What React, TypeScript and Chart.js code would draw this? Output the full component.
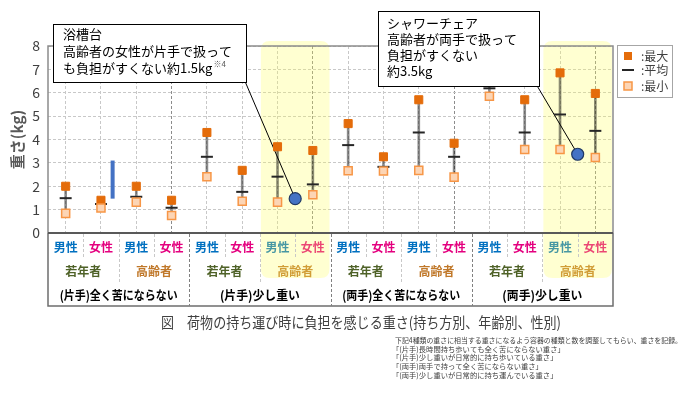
import React, { useEffect, useRef } from 'react';
import { Chart, registerables } from 'chart.js';

Chart.register(...registerables);

// ---------- data ----------
const genders = ['男性', '女性', '男性', '女性', '男性', '女性', '男性', '女性', '男性', '女性', '男性', '女性', '男性', '女性', '男性', '女性'];
const ageGroups = ['若年者', '高齢者', '若年者', '高齢者', '若年者', '高齢者', '若年者', '高齢者'];
const holdGroups = ['(片手)全く苦にならない', '(片手)少し重い', '(両手)全く苦にならない', '(両手)少し重い'];
const highlightedAgeGroups = [3, 7];

const maxValues = [2.0, 1.4, 2.0, 1.4, 4.3, 2.68, 3.69, 3.53, 4.68, 3.26, 5.7, 3.84, 6.6, 5.7, 6.85, 5.97];
const avgValues = [1.49, 1.24, 1.55, 1.08, 3.26, 1.76, 2.41, 2.08, 3.76, 2.83, 4.3, 3.26, 6.19, 4.3, 5.07, 4.37];
const minValues = [0.84, 1.07, 1.32, 0.75, 2.41, 1.36, 1.32, 1.64, 2.66, 2.65, 2.68, 2.39, 5.85, 3.57, 3.57, 3.23];

const markerX = [7.0, 15.0];
const markerY = [1.47, 3.37];
const blueBarX = 1.83;
const blueBarRange = [1.47, 3.1];

const yTickValues = [0, 1, 2, 3, 4, 5, 6, 7, 8];

const callout1Lines = ['浴槽台', '高齢者の女性が片手で扱って', 'も負担がすくない約1.5kg'];
const callout1Note = '※4';
const callout2Lines = ['シャワーチェア', '高齢者が両手で扱って', '負担がすくない', '約3.5kg'];

const legendLabels = [':最大', ':平均', ':最小'];
const chartTitle = '図　荷物の持ち運び時に負担を感じる重さ(持ち方別、年齢別、性別)';
const footnotes = [
  '下記4種類の重さに相当する重さになるよう容器の種類と数を調整してもらい、重さを記録。',
  '「(片手)長時間持ち歩いても全く苦にならない重さ」',
  '「(片手)少し重いが日常的に持ち歩いている重さ」',
  '「(両手)両手で持って全く苦にならない重さ」',
  '「(両手)少し重いが日常的に持ち運んでいる重さ」',
];

const FONT = "'Noto Sans CJK JP', 'Noto Sans', sans-serif";
const MAX_COLOR = '#E46C0A';
const MIN_FILL = '#FCD5B5';
const MIN_BORDER = '#F79646';
const AVG_COLOR = '#262626';
const BLUE = '#4472C4';

function roundRect(ctx: CanvasRenderingContext2D, x: number, y: number, w: number, h: number, r: number) {
  ctx.beginPath();
  ctx.moveTo(x + r, y);
  ctx.lineTo(x + w - r, y);
  ctx.quadraticCurveTo(x + w, y, x + w, y + r);
  ctx.lineTo(x + w, y + h - r);
  ctx.quadraticCurveTo(x + w, y + h, x + w - r, y + h);
  ctx.lineTo(x + r, y + h);
  ctx.quadraticCurveTo(x, y + h, x, y + h - r);
  ctx.lineTo(x, y + r);
  ctx.quadraticCurveTo(x, y, x + r, y);
  ctx.closePath();
}

const CALLOUT1 = { x: 53.5, y: 24.5, w: 193, h: 58, tx: 63, ty: [34, 51, 68] };
const CALLOUT2 = { x: 378.5, y: 11.5, w: 161, h: 75, tx: 387, ty: [23, 39, 55, 71] };

const overlayPlugin = {
  id: 'overlay',
  beforeDatasetsDraw(chart: any) {
    const ctx: CanvasRenderingContext2D = chart.ctx;
    const xs = chart.scales.x;
    const ys = chart.scales.y;
    ctx.save();

    // category labels
    ctx.textAlign = 'center';
    ctx.textBaseline = 'middle';
    ctx.font = `bold 12px ${FONT}`;
    genders.forEach((g, i) => {
      ctx.fillStyle = g === '男性' ? '#0070C0' : '#E4007F';
      ctx.fillText(g, xs.getPixelForValue(i + 0.5), 247);
    });
    ageGroups.forEach((a, i) => {
      ctx.fillStyle = a === '若年者' ? '#4F6228' : '#C0782A';
      ctx.fillText(a, xs.getPixelForValue(i * 2 + 1), 271);
    });
    ctx.fillStyle = '#000';
    ctx.font = `bold 12.5px ${FONT}`;
    holdGroups.forEach((h, i) => {
      const w = h.length > 8 ? 118 : 80;
      ctx.fillText(h, xs.getPixelForValue(i * 4 + 2), 295, w);
    });

    // highlight bands (semi-transparent)
    ctx.fillStyle = 'rgba(255, 255, 90, 0.28)';
    highlightedAgeGroups.forEach((g) => {
      const x0 = xs.getPixelForValue(g * 2);
      const x1 = xs.getPixelForValue(g * 2 + 2);
      roundRect(ctx, x0 + 1, 41, x1 - x0 - 2, 237, 9);
      ctx.fill();
    });

    // leader lines
    ctx.strokeStyle = '#000';
    ctx.lineWidth = 1;
    const starts = [
      [CALLOUT1.x + CALLOUT1.w - 1, CALLOUT1.y + CALLOUT1.h],
      [CALLOUT2.x + CALLOUT2.w - 2, CALLOUT2.y + CALLOUT2.h],
    ];
    for (let i = 0; i < 2; i++) {
      ctx.beginPath();
      ctx.moveTo(starts[i][0], starts[i][1]);
      ctx.lineTo(xs.getPixelForValue(markerX[i]), ys.getPixelForValue(markerY[i]));
      ctx.stroke();
    }
    ctx.restore();
  },
  afterDraw(chart: any) {
    const ctx: CanvasRenderingContext2D = chart.ctx;
    const xs = chart.scales.x;
    const { left, right, top, bottom } = chart.chartArea;
    const boxBottom = 306;
    ctx.save();

    // plot frame
    ctx.setLineDash([]);
    ctx.strokeStyle = '#8C8C8C';
    ctx.lineWidth = 1.5;
    ctx.beginPath();
    ctx.moveTo(left, bottom);
    ctx.lineTo(left, top);
    ctx.lineTo(right, top);
    ctx.lineTo(right, bottom);
    ctx.stroke();

    // label area frame
    ctx.strokeStyle = '#6E6E6E';
    ctx.beginPath();
    ctx.moveTo(left, bottom);
    ctx.lineTo(left, boxBottom);
    ctx.lineTo(right, boxBottom);
    ctx.lineTo(right, bottom);
    ctx.stroke();
    ctx.strokeStyle = '#595959';
    ctx.lineWidth = 2;
    ctx.beginPath();
    ctx.moveTo(left, bottom);
    ctx.lineTo(right, bottom);
    ctx.stroke();

    // separators in label area
    ctx.lineWidth = 1;
    ctx.setLineDash([3, 2]);
    for (let i = 1; i < genders.length; i++) {
      const px = Math.round(xs.getPixelForValue(i)) + 0.5;
      let end = 259;
      ctx.strokeStyle = '#C8C8C8';
      if (i % 4 === 0) {
        end = boxBottom;
        ctx.strokeStyle = '#808080';
      } else if (i % 2 === 0) {
        end = 283;
      }
      ctx.beginPath();
      ctx.moveTo(px, bottom + 1);
      ctx.lineTo(px, end);
      ctx.stroke();
    }
    ctx.setLineDash([]);

    ctx.textBaseline = 'middle';
    // title
    ctx.textAlign = 'left';
    ctx.fillStyle = '#404040';
    ctx.font = `15px ${FONT}`;
    ctx.fillText(chartTitle, 161, 322, 400);

    // footnotes
    ctx.font = `7.3px ${FONT}`;
    ctx.fillStyle = '#404040';
    footnotes.forEach((f, i) => {
      ctx.fillText(f, i === 0 ? 395 : 392, 340 + i * 8.8, i === 0 ? 287 : 200);
    });

    // callouts
    const drawBox = (b: any, lines: string[]) => {
      ctx.fillStyle = '#fff';
      ctx.fillRect(b.x, b.y, b.w, b.h);
      ctx.strokeStyle = '#000';
      ctx.lineWidth = 1;
      ctx.strokeRect(b.x, b.y, b.w, b.h);
      ctx.fillStyle = '#000';
      ctx.font = `13px ${FONT}`;
      ctx.textAlign = 'left';
      lines.forEach((l, i) => ctx.fillText(l, b.tx, b.ty[i]));
    };
    drawBox(CALLOUT1, callout1Lines);
    const lastW = ctx.measureText(callout1Lines[2]).width;
    ctx.font = `8px ${FONT}`;
    ctx.fillStyle = '#595959';
    ctx.fillText(callout1Note, CALLOUT1.tx + lastW + 1, CALLOUT1.ty[2] - 4);
    drawBox(CALLOUT2, callout2Lines);

    // legend
    const lx = 617.5, ly = 45.5, lw = 55, lh = 52;
    ctx.fillStyle = '#fff';
    ctx.fillRect(lx, ly, lw, lh);
    ctx.strokeStyle = '#A6A6A6';
    ctx.lineWidth = 1;
    ctx.strokeRect(lx, ly, lw, lh);
    const rows = [56, 70, 86];
    ctx.fillStyle = MAX_COLOR;
    ctx.fillRect(624, rows[0] - 4, 8, 8);
    ctx.strokeStyle = AVG_COLOR;
    ctx.lineWidth = 2;
    ctx.beginPath();
    ctx.moveTo(622, rows[1]);
    ctx.lineTo(634, rows[1]);
    ctx.stroke();
    ctx.fillStyle = MIN_FILL;
    ctx.fillRect(624, rows[2] - 4, 8, 8);
    ctx.strokeStyle = MIN_BORDER;
    ctx.lineWidth = 1.5;
    ctx.strokeRect(624, rows[2] - 4, 8, 8);
    ctx.fillStyle = '#404040';
    ctx.font = `12px ${FONT}`;
    legendLabels.forEach((t, i) => ctx.fillText(t, 641, rows[i]));

    ctx.restore();
  },
};

export default function App() {
  const canvasRef = useRef<HTMLCanvasElement | null>(null);

  useEffect(() => {
    document.body.style.margin = '0';
    const canvas = canvasRef.current;
    if (!canvas) return;
    Chart.defaults.font.family = FONT;

    const colX = genders.map((_, i) => i + 0.5);

    const chart = new Chart(canvas, {
      type: 'scatter',
      data: {
        datasets: [
          {
            type: 'bar',
            label: 'range',
            data: colX.map((x, i) => ({ x, y: [minValues[i], maxValues[i]] })) as any,
            backgroundColor: 'rgba(0, 0, 0, 0.45)',
            borderWidth: 0,
            barThickness: 2,
            grouped: false,
            order: 5,
          } as any,
          {
            type: 'line',
            label: 'blue bar',
            data: [
              { x: blueBarX, y: blueBarRange[0] },
              { x: blueBarX, y: blueBarRange[1] },
            ],
            borderColor: BLUE,
            borderWidth: 4,
            borderCapStyle: 'butt',
            pointRadius: 0,
            order: 4,
          } as any,
          {
            label: '平均',
            data: colX.map((x, i) => ({ x, y: avgValues[i] })),
            pointStyle: 'line',
            pointRadius: 6,
            borderColor: AVG_COLOR,
            borderWidth: 2,
            order: 3,
          } as any,
          {
            label: '最大',
            data: colX.map((x, i) => ({ x, y: maxValues[i] })),
            pointStyle: 'rect',
            pointRadius: 5.7,
            backgroundColor: MAX_COLOR,
            borderColor: MAX_COLOR,
            borderWidth: 1,
            order: 2,
          } as any,
          {
            label: '最小',
            data: colX.map((x, i) => ({ x, y: minValues[i] })),
            pointStyle: 'rect',
            pointRadius: 5.7,
            backgroundColor: MIN_FILL,
            borderColor: MIN_BORDER,
            borderWidth: 1.5,
            order: 1,
          } as any,
          {
            label: 'marker',
            data: markerX.map((x, i) => ({ x, y: markerY[i] })),
            pointStyle: 'circle',
            pointRadius: 6,
            backgroundColor: BLUE,
            borderColor: '#203864',
            borderWidth: 1.2,
            order: 0,
          } as any,
        ],
      },
      options: {
        responsive: false,
        animation: false,
        events: [],
        layout: { padding: { left: 0, top: 46, right: 74, bottom: 160 } },
        plugins: {
          legend: { display: false },
          tooltip: { enabled: false },
        },
        scales: {
          x: {
            type: 'linear',
            min: 0,
            max: genders.length,
            offset: false,
            ticks: { display: false, stepSize: 1 },
            grid: {
              drawTicks: false,
              color: (c: any) => (c.tick && c.tick.value % 4 === 0 ? '#8C8C8C' : '#C8C8C8'),
              lineWidth: 1,
            },
            border: { display: false, dash: [3, 2] },
            afterFit: (s: any) => {
              s.height = 0;
            },
          },
          y: {
            type: 'linear',
            min: yTickValues[0],
            max: yTickValues[yTickValues.length - 1],
            afterBuildTicks: (s: any) => {
              s.ticks = yTickValues.map((v) => ({ value: v }));
            },
            ticks: {
              font: { size: 14, family: FONT },
              color: '#404040',
              padding: 8,
            },
            grid: { drawTicks: false, color: '#C8C8C8', lineWidth: 1 },
            border: { display: false, dash: [3, 2] },
            title: {
              display: true,
              text: '重さ(kg)',
              color: '#595959',
              font: { size: 15, weight: 'bold', family: FONT },
              padding: { top: 8, bottom: 0 },
            },
            afterFit: (s: any) => {
              s.width = 48;
            },
          },
        },
      } as any,
      plugins: [overlayPlugin],
    });

    return () => chart.destroy();
  }, []);

  return (
    <div style={{ width: 687, height: 393, background: '#fff' }}>
      <canvas ref={canvasRef} width={687} height={393} />
    </div>
  );
}
